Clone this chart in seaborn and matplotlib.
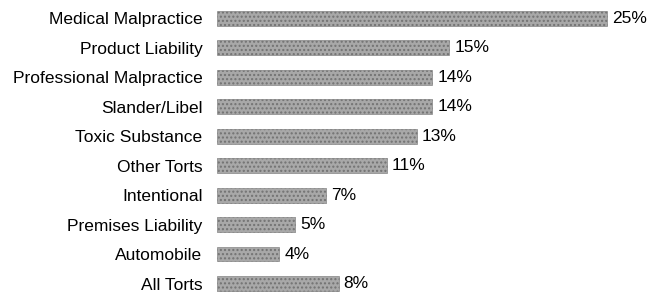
import pandas as pd
import seaborn as sns
import matplotlib.pyplot as plt

# Share of cases by tort type (bar lengths, labels as printed)
categories = ["Medical Malpractice", "Product Liability", "Professional Malpractice",
              "Slander/Libel", "Toxic Substance", "Other Torts", "Intentional",
              "Premises Liability", "Automobile", "All Torts"]
values = [25.0, 14.9, 13.8, 13.8, 12.8, 10.9, 7.0, 5.0, 4.0, 7.8]
value_labels = ["25%", "15%", "14%", "14%", "13%", "11%", "7%", "5%", "4%", "8%"]

df = pd.DataFrame({"category": categories, "value": values})

sns.set_style("white")
plt.rcParams['font.family'] = ['Liberation Sans', 'DejaVu Sans']

fig = plt.figure(figsize=(6.51, 2.93), dpi=100)
ax = fig.add_axes([217 / 651, 0, 434 / 651, 1])

sns.barplot(data=df, x="value", y="category", orient="h", color="#a8a8a8",
            width=0.5, saturation=1, ax=ax)

# dotted fill to imitate the printed halftone
for bar in ax.patches:
    bar.set_hatch("....")
    bar.set_edgecolor("#727272")
    bar.set_linewidth(0.4)

ax.bar_label(ax.containers[0], labels=value_labels, padding=3.5, fontsize=12.5, color="black")

ax.set_xlim(0, 434 / 15.6)
ax.set_ylim(9.32, -0.62)
ax.set_xlabel("")
ax.set_ylabel("")
ax.set_xticks([])
ax.tick_params(axis="y", length=0, pad=10.5, labelsize=12.5, labelcolor="black")
sns.despine(ax=ax, left=True, bottom=True)

plt.savefig("out.png", dpi=100)
